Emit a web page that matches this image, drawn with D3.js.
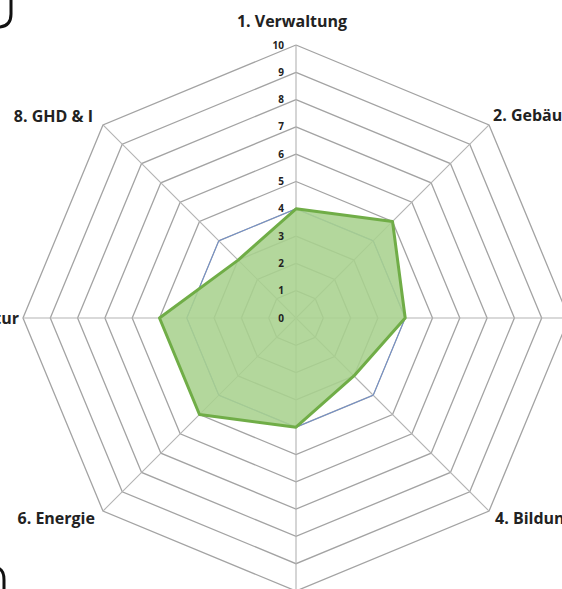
<!DOCTYPE html>
<html><head><meta charset="utf-8">
<script src="https://cdn.jsdelivr.net/npm/d3@7"></script>
<style>body{margin:0;background:#fff}svg{display:block}</style>
</head><body>
<script>
const categories = ["1. Verwaltung","2. Gebäude","3. Mobilität","4. Bildung","5. Wohnen","6. Energie","7. Infrastruktur","8. GHD & I"];
const seriesGreen = [4,5,4,3,4,5,5,3];
const seriesBlue = [4,4,4,4,4,4,4,4];
const ticks = [0,1,2,3,4,5,6,7,8,9,10];

const W=562,H=589,cx=296,cy=318;
const svg=d3.select("body").append("svg").attr("width",W).attr("height",H);
const r=d3.scaleLinear().domain([0,10]).range([0,273]);
const ang=d3.scalePoint().domain(d3.range(categories.length)).range([0,2*Math.PI*(7/8)]);
const pt=(i,v)=>[cx+r(v)*Math.sin(ang(i)),cy-r(v)*Math.cos(ang(i))];
const g=svg.append("g");
ticks.slice(1).forEach(t=>{
  g.append("path").attr("d",d3.line()(d3.range(8).map(i=>pt(i,t)).concat([pt(0,t)])))
   .attr("fill","none").attr("stroke","#a3a3a3").attr("stroke-width",1.3);
});
d3.range(8).forEach(i=>{
  const p=pt(i,10);
  g.append("line").attr("x1",cx).attr("y1",cy).attr("x2",p[0]).attr("y2",p[1])
   .attr("stroke","#b3b3b3").attr("stroke-width",1.1);
});
const radial=d3.lineRadial().angle((d,i)=>ang(i)).radius(d=>r(d)).curve(d3.curveLinearClosed);
const sg=svg.append("g").attr("transform",`translate(${cx},${cy})`);
sg.append("path").attr("d",radial(seriesBlue)).attr("fill","none").attr("stroke","#6a8ccf").attr("stroke-width",0.9);
sg.append("path").attr("d",radial(seriesGreen)).attr("fill","#a9d18e").attr("fill-opacity",0.88)
  .attr("stroke","#70ad47").attr("stroke-width",3).attr("stroke-linejoin","round");
ticks.forEach(t=>{
  svg.append("text").attr("x",cx-12).attr("y",cy-r(t)).attr("dy","0.35em").attr("text-anchor","end")
   .attr("font-family","Open Sans").attr("font-weight","bold").attr("font-size",10).attr("fill","#222").text(t);
});
const lab=[
  {a:"middle",dx:-4,dy:-18},
  {a:"start",dx:4,dy:-4},
  {a:"start",dx:8,dy:6},
  {a:"start",dx:6,dy:13},
  {a:"middle",dx:0,dy:30},
  {a:"end",dx:-8,dy:13},
  {a:"end",dx:-4,dy:6},
  {a:"end",dx:-10,dy:-3}
];
categories.forEach((c,i)=>{
  const p=pt(i,10);
  svg.append("text").attr("x",p[0]+lab[i].dx).attr("y",p[1]+lab[i].dy).attr("text-anchor",lab[i].a)
   .attr("font-family","Open Sans").attr("font-weight","bold").attr("font-size",16).attr("fill","#222").text(c);
});
svg.append("path").attr("d","M11,0 L11,14 Q11,27 -2,27").attr("fill","none").attr("stroke","#111").attr("stroke-width",3);
svg.append("path").attr("d","M-2,568 Q4,570 4,580 L4,592").attr("fill","none").attr("stroke","#111").attr("stroke-width",3);
</script>
</body></html>
